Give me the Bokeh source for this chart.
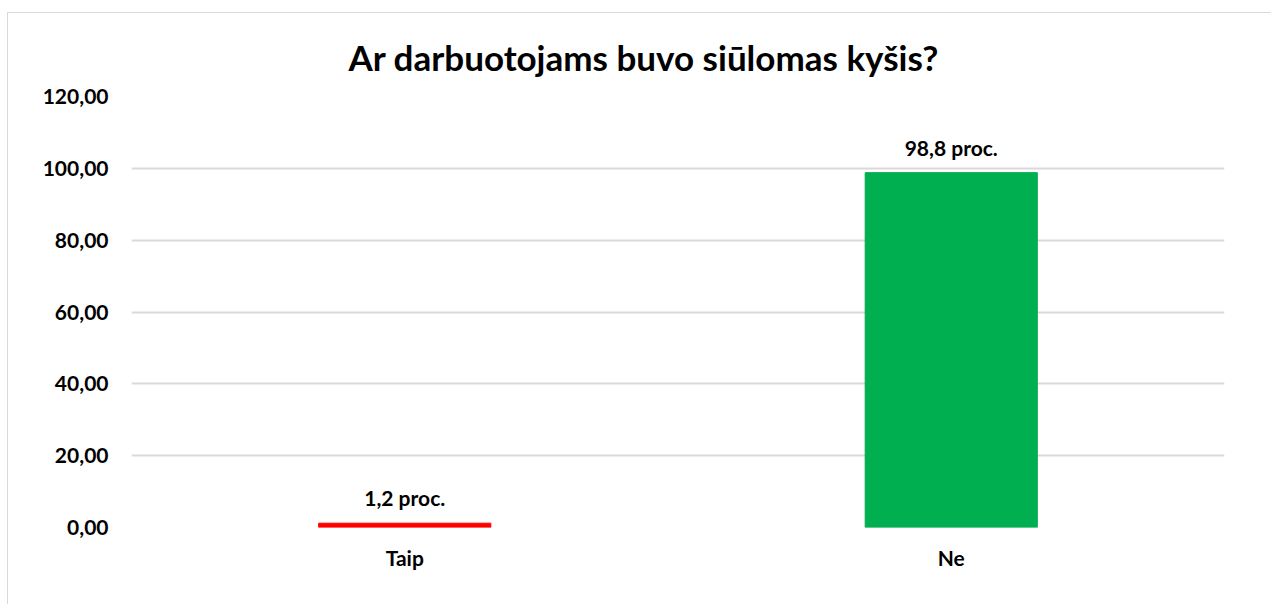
from bokeh.plotting import figure
from bokeh.models import ColumnDataSource, CustomJSTickFormatter, Range1d, LabelSet
from bokeh.core.properties import value
from bokeh.embed import file_html
from bokeh.resources import INLINE

categories = ["Taip", "Ne"]
values = [1.2, 98.8]
labels = ["1,2 proc.", "98,8 proc."]
colors = ["#FF0000", "#00B050"]
title_text = "Ar darbuotojams buvo siūlomas kyšis?"

FONT = "Lato"

src = ColumnDataSource(dict(cat=categories, val=values, lab=labels, col=colors))

p = figure(x_range=categories, y_range=Range1d(0, 120), width=1264, height=592,
           output_backend="svg", toolbar_location=None, title=title_text,
           min_border_left=123, min_border_right=48, min_border_top=83, min_border_bottom=78)
p.margin = (12, 0, 0, 7)
p.styles = {"border-left": "1px solid #d9d9d9", "border-top": "1px solid #d9d9d9"}

p.vbar(x="cat", top="val", width=0.315, color="col", source=src)

ls = LabelSet(x="cat", y="val", text="lab", source=src, y_offset=13, text_align="center",
              text_baseline="bottom", text_font=value(FONT), text_font_style="bold",
              text_font_size="21px", text_color="#000000")
p.add_layout(ls)

p.title.align = "left"
p.title.offset = 217
p.title.vertical_align = "bottom"
p.title.standoff = 38
p.title.text_font = FONT
p.title.text_font_size = "35px"
p.title.text_font_style = "bold"
p.title.text_color = "#000000"

p.outline_line_color = None
p.background_fill_color = "white"
p.border_fill_color = "white"

p.xgrid.grid_line_color = None
p.ygrid.grid_line_color = "#d9d9d9"
p.ygrid.grid_line_width = 2

p.yaxis.ticker = [0, 20, 40, 60, 80, 100, 120]
p.yaxis.formatter = CustomJSTickFormatter(code="return tick.toFixed(2).replace('.', ',');")
for ax in (p.xaxis, p.yaxis):
    ax.axis_line_color = None
    ax.major_tick_line_color = None
    ax.minor_tick_line_color = None
    ax.major_label_text_font = FONT
    ax.major_label_text_font_style = "bold"
    ax.major_label_text_font_size = "21px"
    ax.major_label_text_color = "#000000"
p.yaxis.major_label_standoff = 17
p.xaxis.major_label_standoff = 11

open("out.html", "w").write(file_html(p, INLINE))
